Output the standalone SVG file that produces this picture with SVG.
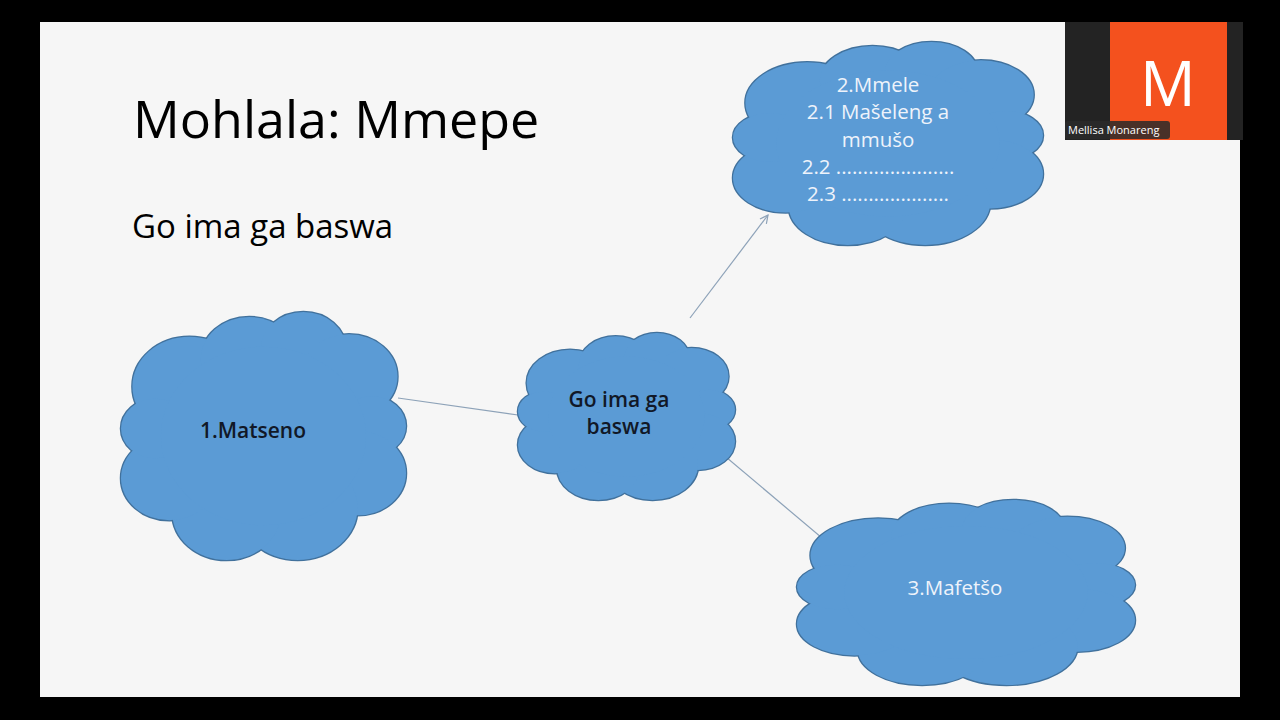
<svg xmlns="http://www.w3.org/2000/svg" xmlns:xlink="http://www.w3.org/1999/xlink" width="1280" height="720" viewBox="0 0 1280 720">
<defs>
<style>
.conn{stroke:#8da2b8;stroke-width:1.2;fill:none}
.t{font-family:"Open Sans","Noto Sans",sans-serif}
.dk{fill:#111827;font-weight:600;font-size:21px;text-anchor:middle}
.wt{fill:#eef3fb;font-size:20.5px;text-anchor:middle}
</style>
<g id="cloudShape">
<circle vector-effect="non-scaling-stroke" cx="24" cy="30" r="20"/>
<circle vector-effect="non-scaling-stroke" cx="45" cy="19" r="17"/>
<circle vector-effect="non-scaling-stroke" cx="64" cy="15" r="15"/>
<circle vector-effect="non-scaling-stroke" cx="80" cy="26" r="17"/>
<circle vector-effect="non-scaling-stroke" cx="88" cy="46" r="12"/>
<circle vector-effect="non-scaling-stroke" cx="83" cy="65" r="17"/>
<circle vector-effect="non-scaling-stroke" cx="62" cy="79" r="21"/>
<circle vector-effect="non-scaling-stroke" cx="37" cy="81" r="19"/>
<circle vector-effect="non-scaling-stroke" cx="17" cy="67" r="17"/>
<circle vector-effect="non-scaling-stroke" cx="12" cy="47" r="12"/>
<circle vector-effect="non-scaling-stroke" cx="50" cy="50" r="36"/>
</g>
<marker id="arr" viewBox="0 0 10 10" refX="9" refY="5" markerWidth="10" markerHeight="10" orient="auto" markerUnits="userSpaceOnUse">
<path d="M1,1 L9,5 L1,9" fill="none" stroke="#8da2b8" stroke-width="1.2"/>
</marker>
</defs>
<rect width="1280" height="720" fill="#000"/>
<rect x="40" y="22" width="1200" height="675" fill="#f6f6f6"/>
<text class="t" x="133" y="138" font-size="52" fill="#000">Mohlala: Mmepe</text>
<text class="t" x="132" y="238" font-size="33" fill="#000">Go ima ga baswa</text>
<g id="connectors">
<line class="conn" x1="398" y1="398" x2="518" y2="415"/>
<line class="conn" x1="690" y1="318" x2="768" y2="215" marker-end="url(#arr)"/>
<line class="conn" x1="720" y1="452" x2="828" y2="543"/>
</g>
<g id="node-matseno">
<g transform="translate(121,312) scale(2.85,2.48)"><use xlink:href="#cloudShape" fill="#5b9bd5" stroke="#41719c" stroke-width="2.5"/><use xlink:href="#cloudShape" fill="#5b9bd5" stroke="none"/></g>
<text class="t dk" x="253" y="438">1.Matseno</text>
</g>
<g id="node-center">
<g transform="translate(518,333) scale(2.17,1.67)"><use xlink:href="#cloudShape" fill="#5b9bd5" stroke="#41719c" stroke-width="2.5"/><use xlink:href="#cloudShape" fill="#5b9bd5" stroke="none"/></g>
<text class="t dk" x="619" y="407">Go ima ga</text>
<text class="t dk" x="619" y="434">baswa</text>
</g>
<g id="node-mmele">
<g transform="translate(733,42) scale(3.1,2.03)"><use xlink:href="#cloudShape" fill="#5b9bd5" stroke="#41719c" stroke-width="2.5"/><use xlink:href="#cloudShape" fill="#5b9bd5" stroke="none"/></g>
<text class="t wt" x="878" y="92">2.Mmele</text>
<text class="t wt" x="878" y="119">2.1 Mašeleng a</text>
<text class="t wt" x="878" y="147">mmušo</text>
<text class="t wt" x="878" y="174">2.2 ......................</text>
<text class="t wt" x="878" y="201">2.3 ....................</text>
</g>
<g id="node-mafetso">
<g transform="translate(797,500) scale(3.38,1.85)"><use xlink:href="#cloudShape" fill="#5b9bd5" stroke="#41719c" stroke-width="2.5"/><use xlink:href="#cloudShape" fill="#5b9bd5" stroke="none"/></g>
<text class="t wt" x="955" y="595" font-size="22">3.Mafetšo</text>
</g>
<g id="video-tile">
<rect x="1065" y="22" width="178" height="118" fill="#232323"/>
<rect x="1110" y="22" width="117" height="118" fill="#f4511e"/>
<text class="t" x="1168" y="106" font-size="62" fill="#fff" text-anchor="middle">M</text>
<rect x="1065" y="121" width="105" height="18" rx="3" fill="#2a2a2a" fill-opacity="0.85"/>
<text class="t" x="1068" y="134" font-size="11" fill="#fff">Mellisa Monareng</text>
</g>
</svg>
